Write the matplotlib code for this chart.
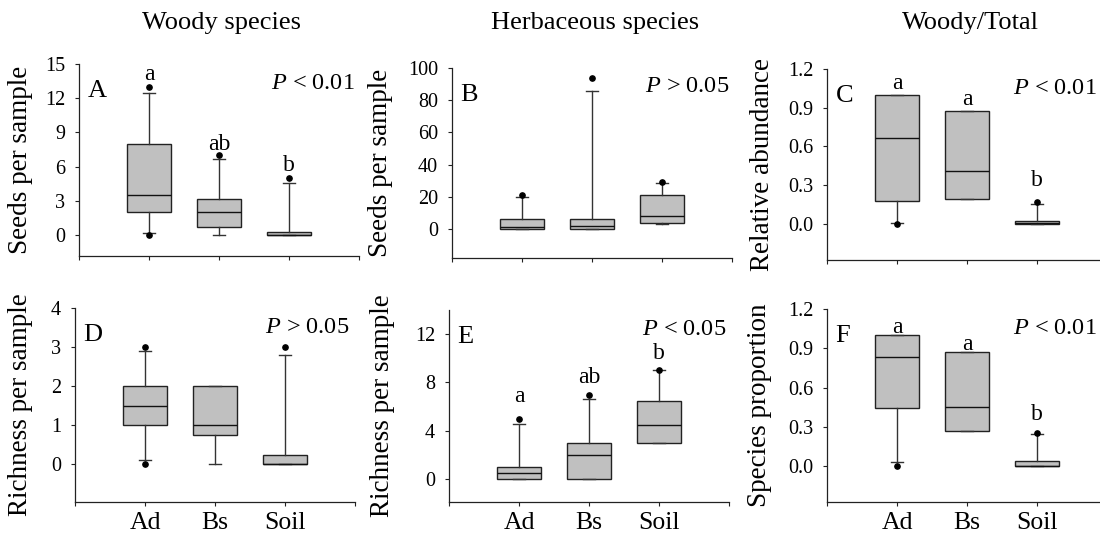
import matplotlib
matplotlib.use('Agg')
import matplotlib.pyplot as plt
import numpy as np

plt.rcParams['font.family'] = ['Liberation Serif', 'DejaVu Serif']
plt.rcParams['mathtext.fontset'] = 'custom'
plt.rcParams['mathtext.rm'] = 'Liberation Serif'
plt.rcParams['mathtext.it'] = 'Liberation Serif:italic'

groups = ['Ad', 'Bs', 'Soil']

# A - woody seeds per sample
a_q1 = [2.0, 0.73, 0.0]
a_med = [3.5, 2.0, 0.0]
a_q3 = [8.0, 3.2, 0.3]
a_lo = [0.2, 0.0, 0.0]
a_hi = [12.5, 6.7, 4.6]
a_out = [[13, 0], [7], [5]]
a_let = ['a', 'ab', 'b']
a_lety = [14.1, 7.9, 6.1]

# B - herbaceous seeds per sample
b_q1 = [0.0, 0.0, 3.5]
b_med = [1.0, 2.0, 8.0]
b_q3 = [6.5, 6.0, 21.0]
b_lo = [0.0, 0.0, 3.0]
b_hi = [20.0, 86.0, 28.5]
b_out = [[21], [94], [29]]

# C - woody/total relative abundance
c_q1 = [0.18, 0.19, 0.0]
c_med = [0.665, 0.41, 0.008]
c_q3 = [1.0, 0.875, 0.02]
c_lo = [0.01, 0.19, 0.0]
c_hi = [1.0, 0.875, 0.155]
c_out = [[0.0], [], [0.17]]
c_let = ['a', 'a', 'b']
c_lety = [1.09, 0.96, 0.34]

# D - woody richness per sample
d_q1 = [1.0, 0.75, 0.0]
d_med = [1.5, 1.0, 0.0]
d_q3 = [2.0, 2.0, 0.23]
d_lo = [0.1, 0.0, 0.0]
d_hi = [2.9, 2.0, 2.8]
d_out = [[3, 0], [], [3]]

# E - herbaceous richness per sample
e_q1 = [0.0, 0.0, 3.0]
e_med = [0.5, 2.0, 4.5]
e_q3 = [1.0, 3.0, 6.5]
e_lo = [0.0, 0.0, 3.0]
e_hi = [4.6, 6.6, 9.0]
e_out = [[5], [7], [9]]
e_let = ['a', 'ab', 'b']
e_lety = [6.8, 8.45, 10.4]

# F - woody/total species proportion
f_q1 = [0.44, 0.27, 0.0]
f_med = [0.835, 0.45, 0.0]
f_q3 = [1.0, 0.875, 0.042]
f_lo = [0.028, 0.27, 0.0]
f_hi = [1.0, 0.875, 0.245]
f_out = [[0.0], [], [0.255]]
f_let = ['a', 'a', 'b']
f_lety = [1.06, 0.93, 0.39]

col_titles = ['Woody species', 'Herbaceous species', 'Woody/Total']

panels = [
    dict(pos=[79, 64, 359, 256], stats=(a_q1, a_med, a_q3, a_lo, a_hi, a_out), ylim=(-1.84, 15),
         yt=[0, 3, 6, 9, 12, 15], fmt='%d', ylab='Seeds per sample', labx=-0.164, tag='A',
         p=r'$P$ < 0.01', px=0.985, let=a_let, lety=a_lety),
    dict(pos=[452, 68, 732, 258], stats=(b_q1, b_med, b_q3, b_lo, b_hi, b_out), ylim=(-18, 100),
         yt=[0, 20, 40, 60, 80, 100], fmt='%d', ylab='Seeds per sample', labx=-0.211, tag='B',
         p=r'$P$ > 0.05', px=0.99, let=None, lety=None),
    dict(pos=[827, 69, 1107, 260], stats=(c_q1, c_med, c_q3, c_lo, c_hi, c_out), ylim=(-0.279, 1.2),
         yt=[0, 0.3, 0.6, 0.9, 1.2], fmt='%.1f', ylab='Relative abundance', labx=-0.186, tag='C',
         p=r'$P$ < 0.01', px=0.962, let=c_let, lety=c_lety),
    dict(pos=[75, 308, 355, 502], stats=(d_q1, d_med, d_q3, d_lo, d_hi, d_out), ylim=(-0.97, 4),
         yt=[0, 1, 2, 3, 4], fmt='%d', ylab='Richness per sample', labx=-0.15, tag='D',
         p=r'$P$ > 0.05', px=0.98, let=None, lety=None),
    dict(pos=[449, 310, 729, 502], stats=(e_q1, e_med, e_q3, e_lo, e_hi, e_out), ylim=(-1.9, 14),
         yt=[0, 4, 8, 12], fmt='%d', ylab='Richness per sample', labx=-0.193, tag='E',
         p=r'$P$ < 0.05', px=0.99, let=e_let, lety=e_lety),
    dict(pos=[827, 309, 1107, 502], stats=(f_q1, f_med, f_q3, f_lo, f_hi, f_out), ylim=(-0.275, 1.2),
         yt=[0, 0.3, 0.6, 0.9, 1.2], fmt='%.1f', ylab='Species proportion', labx=-0.196, tag='F',
         p=r'$P$ < 0.01', px=0.962, let=f_let, lety=f_lety),
]

W, H = 1100, 535
fig = plt.figure(figsize=(W / 100, H / 100), dpi=100)

for k, pn in enumerate(panels):
    x0, y0, x1, y1 = pn['pos']
    ax = fig.add_axes([x0 / W, (H - y1) / H, (x1 - x0) / W, (y1 - y0) / H])
    q1, med, q3, lo, hi, out = pn['stats']
    bstats = [dict(q1=q1[i], med=med[i], q3=q3[i], whislo=lo[i], whishi=hi[i], fliers=out[i])
              for i in range(3)]
    ax.bxp(bstats, positions=[1, 2, 3], widths=0.62, patch_artist=True, capwidths=0.17,
           boxprops=dict(facecolor='#c0c0c0', edgecolor='#222222', linewidth=1.0),
           medianprops=dict(color='#111111', linewidth=1.0),
           whiskerprops=dict(color='#333333', linewidth=1.0),
           capprops=dict(color='#333333', linewidth=1.0),
           flierprops=dict(marker='o', markersize=3.8, markerfacecolor='black',
                           markeredgecolor='black'))
    ax.set_xlim(0, 4)
    ax.set_ylim(*pn['ylim'])
    ax.set_yticks(pn['yt'])
    ax.set_yticklabels([pn['fmt'] % v for v in pn['yt']])
    ax.set_xticks([0, 1, 2, 3, 4])
    if k >= 3:
        ax.set_xticklabels([''] + groups + [''], fontsize=18.5)
    else:
        ax.set_xticklabels([])
    for s in ['top', 'right']:
        ax.spines[s].set_visible(False)
    for s in ['left', 'bottom']:
        ax.spines[s].set_linewidth(0.9)
        ax.spines[s].set_color('#222222')
    ax.tick_params(axis='y', direction='out', length=3, width=0.8, pad=7, labelsize=14.5, color='#222222')
    ax.tick_params(axis='x', direction='out', length=3, width=0.8, pad=4, color='#222222')
    ax.set_ylabel(pn['ylab'], fontsize=19.5)
    ax.yaxis.set_label_coords(pn['labx'], 0.5)
    ax.text(0.03, 0.86, pn['tag'], transform=ax.transAxes, fontsize=19, va='center', ha='left')
    ax.text(pn['px'], 0.9, pn['p'], transform=ax.transAxes, fontsize=17.5, va='center', ha='right')
    if pn['let'] is not None:
        for i in range(3):
            ax.text(i + 1, pn['lety'][i], pn['let'][i], fontsize=17, ha='center', va='center')
    ax.patch.set_visible(False)
    if k < 3:
        fig.text((x0 + 140 + 3) / W, (H - 29) / H, col_titles[k], fontsize=19,
                 ha='center', va='baseline')

fig.savefig('out.png', dpi=100)
